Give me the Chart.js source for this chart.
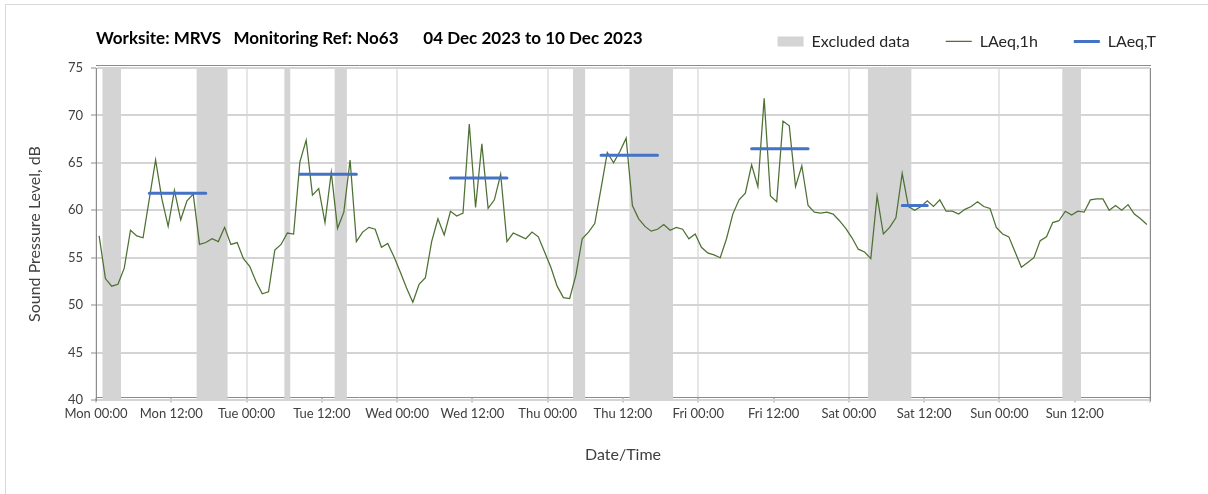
<!DOCTYPE html>
<html><head><meta charset="utf-8">
<script src="https://cdn.jsdelivr.net/npm/chart.js@4.4.1/dist/chart.umd.min.js"></script>
<style>
html,body{margin:0;padding:0;background:#fff;overflow:hidden;}
#wrap{position:relative;width:1208px;height:494px;}
#frame{position:absolute;left:5px;top:4px;width:1230px;height:530px;border:1px solid #d9d9d9;box-sizing:border-box;}
canvas{position:absolute;left:0;top:0;}
</style></head><body>
<div id="wrap"><div id="frame"></div><canvas id="c" width="1208" height="494"></canvas></div>
<script>
// ---- text ----
const chartTitle = 'Worksite: MRVS   Monitoring Ref: No63      04 Dec 2023 to 10 Dec 2023';
const yTitle = 'Sound Pressure Level, dB';
const xTitle = 'Date/Time';
const seriesNames = ['Excluded data', 'LAeq,1h', 'LAeq,T'];
const tickLabels = ['Mon 00:00','Mon 12:00','Tue 00:00','Tue 12:00','Wed 00:00','Wed 12:00',
  'Thu 00:00','Thu 12:00','Fri 00:00','Fri 12:00','Sat 00:00','Sat 12:00','Sun 00:00','Sun 12:00'];

// ---- hourly LAeq,1h values (hour 0 = Mon 00:00) ----
const laeq1h = [
  57.3,52.8,52.0,52.2,53.9,57.9,57.3,57.1,61.2,65.3,61.2,58.3,62.1,59.0,61.0,61.7,56.4,56.6,57.0,56.7,58.2,56.4,56.6,54.9,
  54.1,52.5,51.2,51.4,55.8,56.4,57.6,57.5,65.1,67.4,61.6,62.3,58.7,64.0,58.1,59.8,65.3,56.7,57.7,58.2,58.0,56.1,56.5,55.1,
  53.5,51.8,50.3,52.2,52.9,56.7,59.1,57.4,59.9,59.4,59.7,69.1,60.3,67.0,60.2,61.1,63.8,56.7,57.6,57.3,57.0,57.7,57.2,55.6,
  54.0,52.0,50.8,50.7,53.2,57.0,57.7,58.6,62.3,66.1,65.0,66.2,67.6,60.5,59.1,58.3,57.8,58.0,58.5,57.9,58.2,58.0,57.0,57.5,
  56.1,55.5,55.3,55.0,57.0,59.6,61.1,61.8,64.8,62.5,71.8,61.5,60.9,69.4,68.9,62.5,64.7,60.5,59.8,59.7,59.8,59.6,58.9,58.1,
  57.1,55.9,55.6,54.9,61.5,57.5,58.2,59.2,63.9,60.4,60.0,60.4,61.0,60.4,61.1,59.9,59.9,59.6,60.1,60.4,60.9,60.4,60.2,58.2,
  57.5,57.2,55.6,54.0,54.5,55.0,56.8,57.2,58.7,58.9,59.9,59.5,59.9,59.8,61.1,61.2,61.2,60.0,60.5,60.0,60.6,59.6,59.1,58.5
];

// ---- LAeq,T periods: first hour, last hour, level ----
const laeqTStart = [8, 32, 56, 80, 104, 128];
const laeqTEnd   = [17, 41, 65, 89, 113, 132];
const laeqTValue = [61.8, 63.8, 63.4, 65.8, 66.5, 60.5];

// ---- excluded data periods (hours from Mon 00:00) ----
const exclStart = [1, 16, 30, 38, 76, 85, 123, 154];
const exclEnd   = [4, 21, 31, 40, 78, 92, 130, 157];

const yMin = 40, yMax = 75, yStep = 5;
const xMin = 0, xMax = 168, xStep = 12;

// ---- build datasets ----
const bandData = [];
exclStart.forEach((s, k) => {
  bandData.push({x: s, y: yMax}, {x: exclEnd[k], y: yMax}, {x: exclEnd[k], y: null});
});
const hourlyData = laeq1h.map((v, i) => ({x: i + 0.5, y: v}));
const tData = [];
laeqTStart.forEach((s, k) => {
  tData.push({x: s + 0.5, y: laeqTValue[k]}, {x: laeqTEnd[k] + 0.5, y: laeqTValue[k]}, {x: laeqTEnd[k] + 0.5, y: null});
});

const GREEN = '#4d7033', BLUE = '#4472C4', GREY = '#d4d4d4';
const FONT = 'Lato';
const legendStyles = [
  {fillStyle: GREY, strokeStyle: GREY, lineWidth: 0, pointStyle: 'rect'},
  {fillStyle: GREEN, strokeStyle: GREEN, lineWidth: 1.25, pointStyle: 'line'},
  {fillStyle: BLUE, strokeStyle: BLUE, lineWidth: 3, pointStyle: 'line'}
];

new Chart(document.getElementById('c'), {
  type: 'line',
  data: {
    datasets: [
      {label: seriesNames[0], data: bandData, borderWidth: 0, borderColor: GREY, backgroundColor: GREY,
       fill: 'start', pointRadius: 0, spanGaps: false, order: 3},
      {label: seriesNames[1], data: hourlyData, borderWidth: 1.25, borderColor: GREEN, backgroundColor: GREEN,
       fill: false, pointRadius: 0, tension: 0, order: 2},
      {label: seriesNames[2], data: tData, borderWidth: 3, borderColor: BLUE, backgroundColor: BLUE,
       fill: false, pointRadius: 0, spanGaps: false, borderCapStyle: 'round', order: 1}
    ]
  },
  options: {
    responsive: false,
    animation: false,
    events: [],
    layout: {padding: {top: 0, left: 25, right: 16, bottom: 27}},
    plugins: {
      tooltip: {enabled: false},
      title: {
        display: true, text: chartTitle, align: 'start', fullSize: false,
        color: '#000', font: {family: FONT, size: 17, weight: 'bold'},
        padding: {top: 28, bottom: -51}
      },
      legend: {
        display: true, position: 'top', align: 'end',
        labels: {
          usePointStyle: true, pointStyleWidth: 26, boxHeight: 10, padding: 36,
          color: '#262626', font: {family: FONT, size: 16},
          generateLabels: (chart) => chart.data.datasets.map((ds, i) => Object.assign({
            text: ds.label, hidden: false, datasetIndex: i, fontColor: '#262626', lineCap: 'butt'
          }, legendStyles[i]))
        }
      }
    },
    scales: {
      x: {
        type: 'linear', position: 'bottom', min: xMin, max: xMax,
        afterFit: s => { s.height = 67; },
        ticks: {
          stepSize: xStep, autoSkip: false, maxRotation: 0, padding: 4,
          color: '#404040', font: {family: FONT, size: 13},
          callback: v => tickLabels[v / xStep] || ''
        },
        grid: {
          color: c => (c.tick && c.tick.value % 24 === 0) ? '#e6e6e6' : 'rgba(0,0,0,0)',
          lineWidth: 2, tickLength: 5, tickColor: '#8c8c8c', tickWidth: 1
        },
        border: {display: true, color: '#8c8c8c', width: 1},
        title: {display: true, text: xTitle, color: '#404040', font: {family: FONT, size: 16}, padding: {top: 0, bottom: 0}}
      },
      x2: {
        type: 'linear', position: 'top', min: xMin, max: xMax,
        afterFit: s => { s.height = 6; },
        ticks: {display: false},
        grid: {drawOnChartArea: false, drawTicks: false},
        border: {display: true, color: '#8c8c8c', width: 1}
      },
      y: {
        type: 'linear', position: 'left', min: yMin, max: yMax,
        afterFit: s => { s.width = 71; },
        ticks: {stepSize: yStep, padding: 8, color: '#404040', font: {family: FONT, size: 13}},
        grid: {color: '#d4d4d4', lineWidth: 2, tickLength: 5, tickColor: '#8c8c8c', tickWidth: 1},
        border: {display: true, color: '#8c8c8c', width: 1},
        title: {display: true, text: yTitle, color: '#404040', font: {family: FONT, size: 16}, padding: {top: 0, bottom: 0}}
      },
      y2: {
        type: 'linear', position: 'right', min: yMin, max: yMax,
        afterFit: s => { s.width = 42; },
        ticks: {display: false},
        grid: {drawOnChartArea: false, drawTicks: false},
        border: {display: true, color: '#8c8c8c', width: 1}
      }
    }
  }
});
</script>
</body></html>
